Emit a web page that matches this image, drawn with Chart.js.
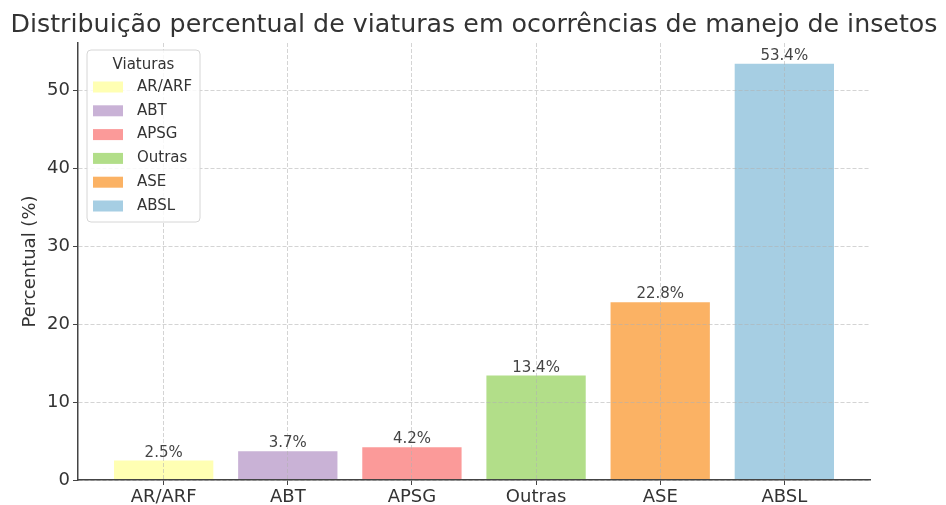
<!DOCTYPE html>
<html>
<head>
<meta charset="utf-8">
<script src="https://cdn.jsdelivr.net/npm/chart.js@4/dist/chart.umd.min.js"></script>
<style>
  html, body { margin: 0; padding: 0; background: #fff; }
  #wrap { width: 946px; height: 505px; }
</style>
</head>
<body>
<div id="wrap"><canvas id="chart"></canvas></div>
<script>
// DATA
const categories = ["AR/ARF", "ABT", "APSG", "Outras", "ASE", "ABSL"];
const percentages = [2.5, 3.7, 4.2, 13.4, 22.8, 53.4];
const yTicks = [0, 10, 20, 30, 40, 50];
const colors = ["#ffffb3", "#c9b2d6", "#fb9a99", "#b2de89", "#fbb264", "#a6cee3"];
const titleText = "Distribuição percentual de viaturas em ocorrências de manejo de insetos";

const FONT = "'DejaVu Sans', sans-serif";
const gridColor = "rgba(176,176,176,0.55)";

// title centred over the plot, not squeezed to the padded width
const plotTitle = {
  id: "plotTitle",
  afterDraw(chart){
    const ctx = chart.ctx;
    const a = chart.chartArea;
    ctx.save();
    ctx.font = "25.3px " + FONT;
    ctx.fillStyle = "#333";
    ctx.textAlign = "center";
    ctx.textBaseline = "alphabetic";
    ctx.fillText(titleText, (a.left + a.right) / 2, 32);
    ctx.restore();
  }
};

// value labels above bars
const barLabels = {
  id: "barLabels",
  afterDraw(chart){
    const ctx = chart.ctx;
    const meta = chart.getDatasetMeta(0);
    ctx.save();
    ctx.font = "15px " + FONT;
    ctx.fillStyle = "#444";
    ctx.textAlign = "center";
    ctx.textBaseline = "alphabetic";
    meta.data.forEach((bar, i) => {
      ctx.fillText(percentages[i].toFixed(1) + "%", bar.x, bar.y - 4);
    });
    ctx.restore();
  }
};

// legend box inside the plot (top left)
const boxLegend = {
  id: "boxLegend",
  afterDraw(chart){
    const ctx = chart.ctx;
    const a = chart.chartArea;
    const x = a.left + 9, y = a.top + 7, w = 113, h = 172;
    ctx.save();
    ctx.beginPath();
    ctx.roundRect(x, y, w, h, 4);
    ctx.fillStyle = "rgba(255,255,255,0.85)";
    ctx.fill();
    ctx.strokeStyle = "#d6d6d6";
    ctx.lineWidth = 1;
    ctx.stroke();

    ctx.font = "15px " + FONT;
    ctx.fillStyle = "#333";
    ctx.textAlign = "center";
    ctx.textBaseline = "alphabetic";
    ctx.fillText("Viaturas", x + w / 2, y + 19);

    ctx.textAlign = "left";
    ctx.textBaseline = "middle";
    categories.forEach((c, i) => {
      const cy = y + 37 + i * 23.8;
      ctx.fillStyle = colors[i];
      ctx.fillRect(x + 6, cy - 5.5, 30, 11);
      ctx.fillStyle = "#333";
      ctx.fillText(c, x + 50, cy);
    });
    ctx.restore();
  }
};

new Chart(document.getElementById("chart"), {
  type: "bar",
  data: {
    datasets: [{
      data: percentages.map((v, i) => ({ x: i, y: v })),
      backgroundColor: colors,
      borderWidth: 0,
      barPercentage: 1,
      categoryPercentage: 0.8
    }]
  },
  options: {
    responsive: true,
    maintainAspectRatio: false,
    animation: false,
    devicePixelRatio: 1,
    layout: { padding: { left: 0, right: 76, top: 43, bottom: 0 } },
    plugins: {
      legend: { display: false },
      tooltip: { enabled: false },
      title: { display: false }
    },
    scales: {
      x: {
        type: "linear",
        offset: false,
        min: -0.69,
        max: 5.69,
        afterBuildTicks: s => { s.ticks = categories.map((c, i) => ({ value: i })); },
        afterFit: s => { s.height = 25; },
        ticks: {
          callback: v => categories[v],
          color: "#333",
          font: { family: FONT, size: 18 },
          padding: 2,
          autoSkip: false,
          maxRotation: 0
        },
        grid: { offset: false, color: gridColor, z: 1, tickColor: "#444", tickLength: 5 },
        border: { color: "#444", width: 1.5, dash: [4, 2], z: 2 }
      },
      y: {
        min: 0,
        max: 56.07,
        afterBuildTicks: s => { s.ticks = yTicks.map(v => ({ value: v })); },
        afterFit: s => { s.width = 78; },
        ticks: {
          color: "#333",
          font: { family: FONT, size: 18 },
          padding: 3
        },
        grid: { color: gridColor, z: 1, tickColor: "#444", tickLength: 5 },
        border: { color: "#444", width: 1.5, dash: [4, 2], z: 2 },
        title: {
          display: true,
          text: "Percentual (%)",
          color: "#333",
          font: { family: FONT, size: 18 },
          padding: { top: 20, bottom: 0 }
        }
      }
    }
  },
  plugins: [plotTitle, barLabels, boxLegend]
});
</script>
</body>
</html>
